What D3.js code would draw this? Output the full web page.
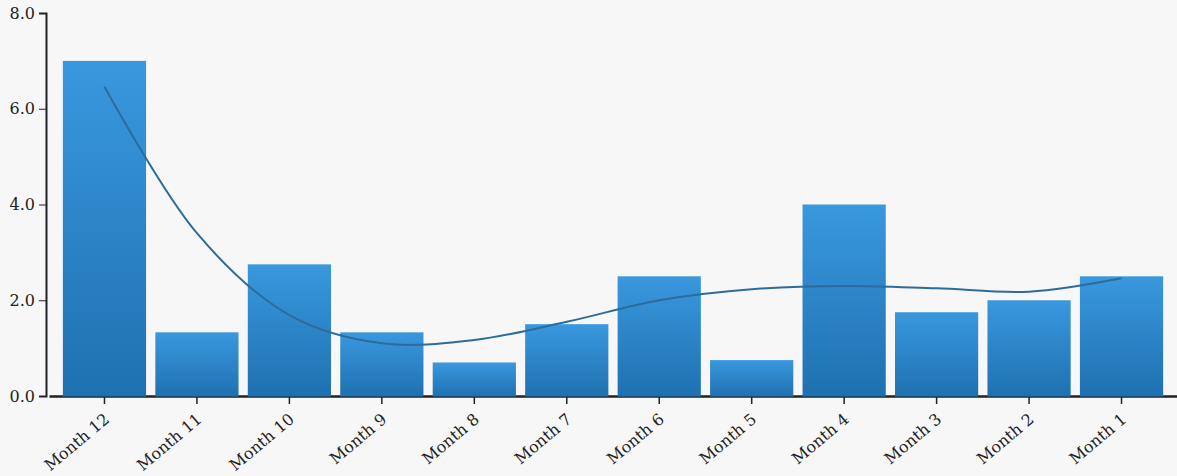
<!DOCTYPE html>
<html>
<head>
<meta charset="utf-8">
<script src="https://cdn.jsdelivr.net/npm/d3@7"></script>
<style>
  html, body { margin: 0; padding: 0; background: #f7f7f7; }
  svg { display: block; }
  .axis text { font-family: "DejaVu Serif", serif; font-size: 16px; fill: #222; }
  .axis path, .axis line { stroke: #222; }
</style>
</head>
<body>
<svg id="chart" width="1177" height="476"></svg>
<script>
// Monthly values, most recent month last
const months = ["Month 12", "Month 11", "Month 10", "Month 9", "Month 8", "Month 7",
                "Month 6", "Month 5", "Month 4", "Month 3", "Month 2", "Month 1"];
const values = [7.0, 1.33, 2.75, 1.33, 0.7, 1.5, 2.5, 0.75, 4.0, 1.75, 2.0, 2.5];
// Smoothed trend evaluated at each month
const trend = [6.46, 3.40, 1.69, 1.10, 1.17, 1.55, 2.0, 2.23, 2.30, 2.25, 2.18, 2.46];
const yTicks = [0, 2, 4, 6, 8];

const svg = d3.select("#chart");

const x = d3.scaleBand()
  .domain(months)
  .range([49, 1177])
  .paddingInner(0.1)
  .paddingOuter(0.15);

const y = d3.scaleLinear()
  .domain([0, 8])
  .range([396, 13]);

// Vertical gradient for the bars
const defs = svg.append("defs");
const grad = defs.append("linearGradient")
  .attr("id", "barFill")
  .attr("x1", 0).attr("y1", 0).attr("x2", 0).attr("y2", 1);
grad.append("stop").attr("offset", "0%").attr("stop-color", "#3a98de");
grad.append("stop").attr("offset", "100%").attr("stop-color", "#1e71b0");

// Y axis
svg.append("g")
  .attr("class", "axis")
  .attr("transform", "translate(46,0)")
  .call(d3.axisLeft(y).tickValues(yTicks).tickFormat(d3.format(".1f")).tickSize(7).tickPadding(4))
  .call(g => g.select(".domain").attr("stroke-width", 2));

// X axis
const xAxis = svg.append("g")
  .attr("class", "axis")
  .attr("transform", "translate(0,396)")
  .call(d3.axisBottom(x).tickSize(8).tickSizeOuter(0));
xAxis.select(".domain").attr("stroke-width", 2.5);
xAxis.selectAll(".tick line").attr("stroke-width", 1.5);
xAxis.selectAll("text")
  .attr("text-anchor", "end")
  .attr("x", -11.5)
  .attr("y", 23)
  .attr("dy", 0)
  .attr("transform", "rotate(-40)");

// Bars
svg.append("g")
  .selectAll("rect")
  .data(months)
  .join("rect")
  .attr("x", d => x(d))
  .attr("width", x.bandwidth())
  .attr("y", (d, i) => y(values[i]))
  .attr("height", (d, i) => y(0) - y(values[i]) + 0.5)
  .attr("fill", "url(#barFill)");

// Trend curve
const line = d3.line()
  .x((d, i) => x(months[i]) + x.bandwidth() / 2)
  .y(d => y(d))
  .curve(d3.curveCatmullRom.alpha(0.5));

svg.append("path")
  .datum(trend)
  .attr("d", line)
  .attr("fill", "none")
  .attr("stroke", "#2c6c9c")
  .attr("stroke-width", 2);
</script>
</body>
</html>
